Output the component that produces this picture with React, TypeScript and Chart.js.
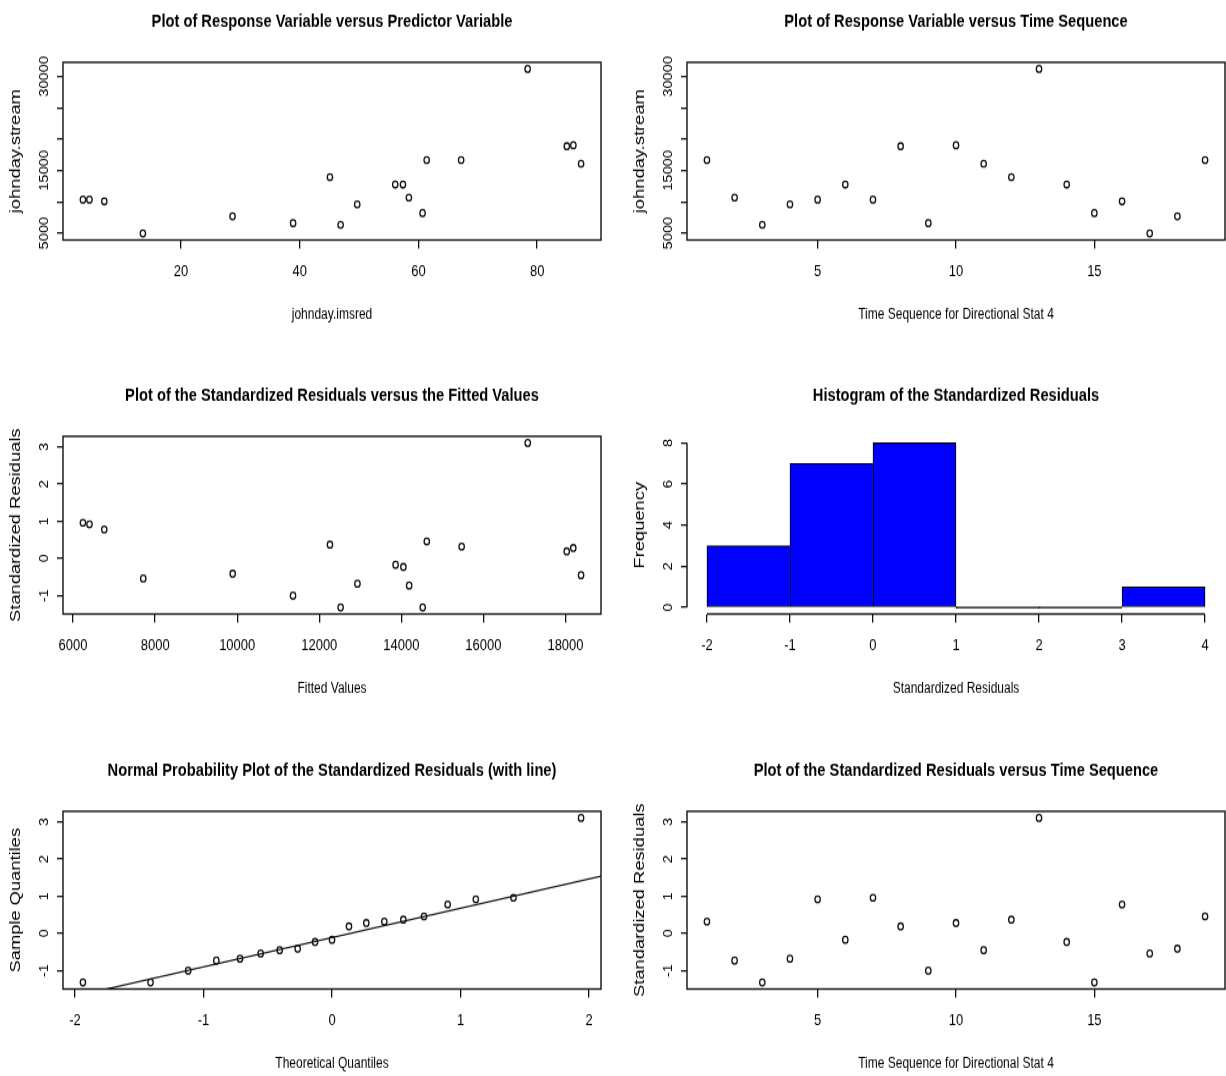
import React, { useEffect, useRef } from 'react';
import { Chart, registerables } from 'chart.js';

Chart.register(...registerables);

// ---------------- data (observation order = time sequence 1..19) ----------------
const timeIndex = [1, 2, 3, 4, 5, 6, 7, 8, 9, 10, 11, 12, 13, 14, 15, 16, 17, 18, 19];
const imsred = [67.2, 58.4, 46.9, 49.7, 4.6, 56.1, 3.5, 85.0, 38.9, 86.1, 87.4, 45.1, 78.4, 57.4, 60.7, 7.1, 13.6, 28.7, 61.4];
const stream = [16660, 10670, 6340, 9600, 10350, 12760, 10350, 18860, 6600, 19020, 16080, 13930, 31200, 12760, 8210, 10080, 4950, 7680, 16660];
const fitted = [15470, 14190, 12520, 12930, 6400, 13860, 6240, 18030, 11360, 18190, 18380, 12260, 17080, 14050, 14520, 6760, 7710, 9890, 14620];
const stdResiduals = [0.32, -0.73, -1.32, -0.68, 0.92, -0.17, 0.96, 0.19, -1.0, 0.28, -0.45, 0.37, 3.11, -0.23, -1.32, 0.78, -0.54, -0.41, 0.46];

const theoreticalQuantiles = [-1.938, -1.412, -1.119, -0.9, -0.716, -0.555, -0.407, -0.267, -0.132, 0, 0.132, 0.267, 0.407, 0.555, 0.716, 0.9, 1.119, 1.412, 1.938];
const sampleQuantiles = [-1.32, -1.32, -1.0, -0.73, -0.68, -0.54, -0.45, -0.41, -0.23, -0.17, 0.19, 0.28, 0.32, 0.37, 0.46, 0.78, 0.92, 0.96, 3.11];
const qqLineIntercept = -0.11;
const qqLineSlope = 0.79;
const qqLineX = [-3, 3];

const histBreaks = [-2, -1, 0, 1, 2, 3, 4];
const histCounts = [3, 7, 8, 0, 0, 1];

const streamTickLabels = [5000, 15000, 30000];

const panelTitles = [
  'Plot of Response Variable versus Predictor Variable',
  'Plot of Response Variable versus Time Sequence',
  'Plot of the Standardized Residuals versus the Fitted Values',
  'Histogram of the Standardized Residuals',
  'Normal Probability Plot of the Standardized Residuals (with line)',
  'Plot of the Standardized Residuals versus Time Sequence',
];

// ---------------- styling / layout ----------------
// Each panel is drawn on a 625 x 307 canvas and shown stretched to 625 x 375,
// the same vertical stretch the reference picture has.
const INK = '#111111';
const REG = "'Liberation Sans', Arial, 'DejaVu Sans', sans-serif";
const PANEL_W = 625;
const PANEL_H = 307;
const PANEL_SHOW_H = 375;
const AREA = { left: 63, right: 601, top: 51, bottom: 196.5 };
const PANEL_POS: [number, number][] = [
  [0, 0], [624, 0],
  [0, 374], [624, 374],
  [0, 749], [624, 749],
];
const X_TICK_LEN = 7;
const Y_TICK_LEN = 6;
const Y_LABEL_CENTER = 45;
const TITLE_BASELINE = 22;
const Y_TICK_FONT = 12;

function rRange(values: number[]): [number, number] {
  const lo = Math.min(...values);
  const hi = Math.max(...values);
  const d = (hi - lo) * 0.04;
  return [lo - d, hi + d];
}

function tickValues(range: [number, number], step: number): number[] {
  const out: number[] = [];
  for (let k = Math.ceil(range[0] / step - 1e-9); k * step <= range[1] + 1e-9; k++) {
    out.push(Math.round(k * step * 1e6) / 1e6);
  }
  return out;
}

function measureWidest(labels: string[], font: string): number {
  const c = document.createElement('canvas').getContext('2d')!;
  c.font = font;
  let w = 0;
  for (const l of labels) w = Math.max(w, c.measureText(l).width);
  return w;
}

function xAxis(range: [number, number], step: number, title: string) {
  const vals = tickValues(range, step);
  return {
    type: 'linear',
    min: range[0],
    max: range[1],
    offset: false,
    border: { display: false },
    grid: { display: true, drawOnChartArea: false, drawTicks: true, tickLength: X_TICK_LEN, color: INK, lineWidth: 1.3, offset: false },
    afterBuildTicks: (s: any) => { s.ticks = vals.map((value) => ({ value })); },
    ticks: {
      autoSkip: false, minRotation: 0, maxRotation: 0,
      padding: 11.5, color: '#000', font: { family: REG, size: 13 },
      callback: (v: number) => String(v),
    },
    title: { display: true, text: title, color: '#000', font: { family: REG, size: 12 }, padding: { top: 0, bottom: 42 } },
    afterFit: (s: any) => { s.height = PANEL_H - AREA.bottom; },
  };
}

function yAxis(range: [number, number], step: number, title: string, shown?: number[]) {
  const vals = tickValues(range, step);
  const labelled = vals.filter((v) => !shown || shown.includes(v)).map(String);
  const widest = measureWidest(labelled, `${Y_TICK_FONT}px ${REG}`);
  const pad = AREA.left - Y_TICK_LEN - Y_LABEL_CENTER - widest / 2;
  return {
    type: 'linear',
    min: range[0],
    max: range[1],
    border: { display: false },
    grid: { display: true, drawOnChartArea: false, drawTicks: true, tickLength: Y_TICK_LEN, color: INK, lineWidth: 1.3 },
    afterBuildTicks: (s: any) => { s.ticks = vals.map((value) => ({ value })); },
    ticks: {
      autoSkip: false, minRotation: 90, maxRotation: 90,
      crossAlign: 'center', padding: pad, color: '#000', font: { family: REG, size: Y_TICK_FONT },
      callback: (v: number) => (!shown || shown.includes(v) ? String(v) : ''),
    },
    title: { display: true, text: title, color: '#000', font: { family: REG, size: 15 }, padding: { top: 6.5, bottom: 0 } },
    afterFit: (s: any) => { s.width = AREA.left; },
  };
}

const rFrame = {
  id: 'rFrame',
  afterDraw(chart: any, _args: any, opts: any) {
    const { ctx, chartArea: a } = chart;
    ctx.save();
    ctx.strokeStyle = INK;
    ctx.lineWidth = 1.4;
    if (opts.box) {
      ctx.strokeRect(a.left, a.top, a.right - a.left, a.bottom - a.top);
    }
    if (opts.histAxes) {
      const xs = chart.scales.x;
      const ys = chart.scales.y;
      ctx.beginPath();
      ctx.moveTo(xs.getPixelForValue(histBreaks[0]), a.bottom);
      ctx.lineTo(xs.getPixelForValue(histBreaks[histBreaks.length - 1]), a.bottom);
      ctx.moveTo(a.left, ys.getPixelForValue(0));
      ctx.lineTo(a.left, ys.getPixelForValue(Math.max(...histCounts)));
      ctx.stroke();
    }
    ctx.fillStyle = '#000';
    ctx.font = `bold 14.7px ${REG}`;
    ctx.textAlign = 'center';
    ctx.textBaseline = 'alphabetic';
    ctx.fillText(opts.title, (a.left + a.right) / 2, TITLE_BASELINE);
    ctx.restore();
  },
};

function baseOptions(title: string, x: any, y: any, box = true, histAxes = false) {
  return {
    responsive: false,
    animation: false,
    devicePixelRatio: 1,
    events: [],
    layout: { padding: { left: 0, right: PANEL_W - AREA.right, top: AREA.top, bottom: 0 } },
    plugins: {
      legend: { display: false },
      tooltip: { enabled: false },
      rFrame: { title, box, histAxes },
    },
    scales: { x, y },
  };
}

function scatterSet(xs: number[], ys: number[]) {
  return {
    data: xs.map((x, i) => ({ x, y: ys[i] })),
    pointStyle: 'circle',
    pointRadius: 2.7,
    pointHoverRadius: 2.7,
    pointBorderWidth: 1.3,
    pointBorderColor: INK,
    pointBackgroundColor: 'rgba(0,0,0,0)',
    showLine: false,
  };
}

function buildConfigs(): any[] {
  const residRange = rRange(stdResiduals);
  const streamRange = rRange(stream);
  const timeRange = rRange(timeIndex);
  const histX = rRange(histBreaks);
  const histY = rRange([0, ...histCounts]);

  const c1 = {
    type: 'scatter',
    data: { datasets: [scatterSet(imsred, stream)] },
    options: baseOptions(panelTitles[0], xAxis(rRange(imsred), 20, 'johnday.imsred'), yAxis(streamRange, 5000, 'johnday.stream', streamTickLabels)),
    plugins: [rFrame],
  };
  const c2 = {
    type: 'scatter',
    data: { datasets: [scatterSet(timeIndex, stream)] },
    options: baseOptions(panelTitles[1], xAxis(timeRange, 5, 'Time Sequence for Directional Stat 4'), yAxis(streamRange, 5000, 'johnday.stream', streamTickLabels)),
    plugins: [rFrame],
  };
  const c3 = {
    type: 'scatter',
    data: { datasets: [scatterSet(fitted, stdResiduals)] },
    options: baseOptions(panelTitles[2], xAxis(rRange(fitted), 2000, 'Fitted Values'), yAxis(residRange, 1, 'Standardized Residuals')),
    plugins: [rFrame],
  };
  const c4 = {
    type: 'bar',
    data: {
      datasets: [{
        data: histCounts.map((c, i) => ({ x: (histBreaks[i] + histBreaks[i + 1]) / 2, y: c })),
        backgroundColor: (ctx: any) => (histCounts[ctx.dataIndex] === 0 ? '#000' : '#0000ff'),
        borderColor: '#000',
        borderSkipped: false,
        borderWidth: (ctx: any) => {
          const i = ctx.dataIndex;
          const next = i + 1 < histCounts.length ? histCounts[i + 1] : -1;
          return { top: 1.2, left: 1, bottom: 1, right: next < histCounts[i] ? 1 : 0 };
        },
        barPercentage: 1,
        categoryPercentage: 1,
        minBarLength: 1,
      }],
    },
    options: baseOptions(panelTitles[3], xAxis(histX, 1, 'Standardized Residuals'), yAxis(histY, 2, 'Frequency'), false, true),
    plugins: [rFrame],
  };
  const c5 = {
    type: 'scatter',
    data: {
      datasets: [
        scatterSet(theoreticalQuantiles, sampleQuantiles),
        {
          data: qqLineX.map((x) => ({ x, y: qqLineIntercept + qqLineSlope * x })),
          showLine: true,
          borderColor: INK,
          borderWidth: 1.2,
          pointRadius: 0,
          pointHoverRadius: 0,
        },
      ],
    },
    options: baseOptions(panelTitles[4], xAxis(rRange(theoreticalQuantiles), 1, 'Theoretical Quantiles'), yAxis(rRange(sampleQuantiles), 1, 'Sample Quantiles')),
    plugins: [rFrame],
  };
  const c6 = {
    type: 'scatter',
    data: { datasets: [scatterSet(timeIndex, stdResiduals)] },
    options: baseOptions(panelTitles[5], xAxis(timeRange, 5, 'Time Sequence for Directional Stat 4'), yAxis(residRange, 1, 'Standardized Residuals')),
    plugins: [rFrame],
  };
  return [c1, c2, c3, c4, c5, c6];
}

export default function App() {
  const refs = useRef<(HTMLCanvasElement | null)[]>([]);
  useEffect(() => {
    document.body.style.margin = '0';
    const configs = buildConfigs();
    const charts = configs.map((cfg, i) => new Chart(refs.current[i] as HTMLCanvasElement, cfg));
    return () => {
      charts.forEach((c) => c.destroy());
    };
  }, []);
  return (
    <div style={{ position: 'relative', width: 1226, height: 1076, overflow: 'hidden', background: '#fff' }}>
      {PANEL_POS.map(([l, t], i) => (
        <canvas
          key={i}
          ref={(el) => { refs.current[i] = el; }}
          width={PANEL_W}
          height={PANEL_H}
          style={{ position: 'absolute', left: l, top: t, width: PANEL_W, height: PANEL_SHOW_H, display: 'block' }}
        />
      ))}
    </div>
  );
}
